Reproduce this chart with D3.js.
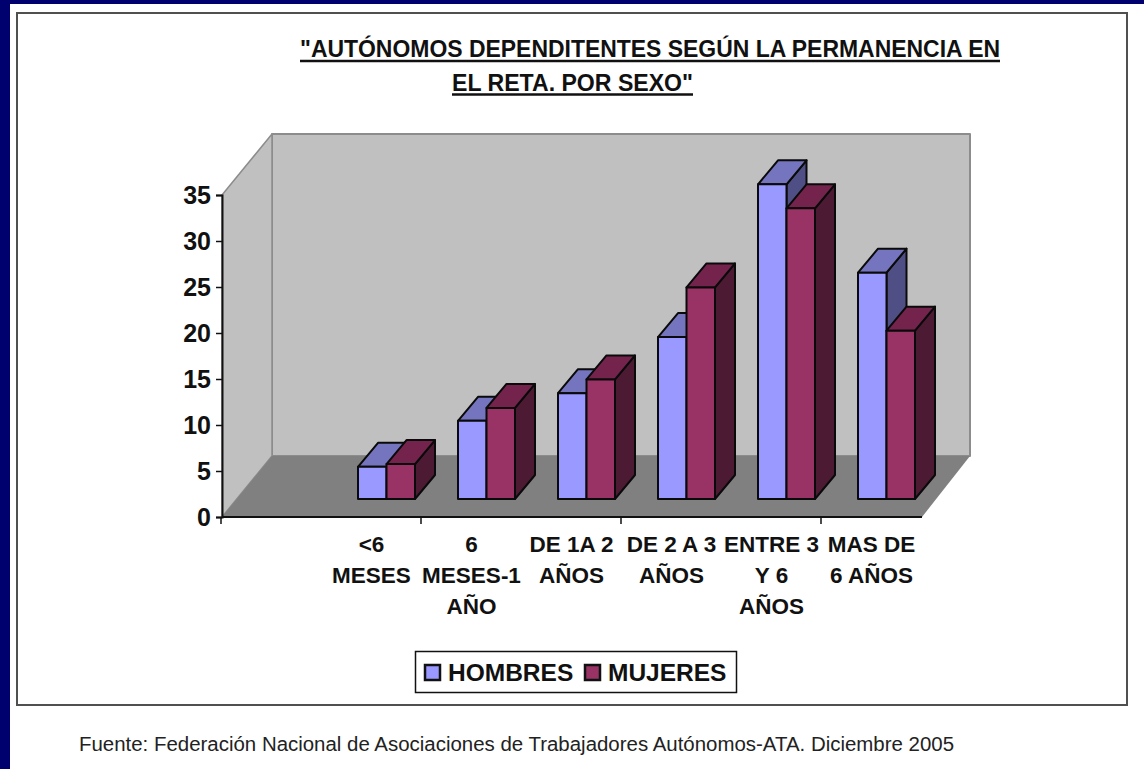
<!DOCTYPE html>
<html lang="es">
<head>
  <meta charset="UTF-8">
  <title>Autónomos dependientes</title>
  <style>
    html, body { margin: 0; padding: 0; background: #fff; }
    svg { display: block; font-family: "Liberation Sans", Arial, sans-serif; }
  </style>
</head>
<body>
  <svg id="chart" width="1144" height="769"></svg>
  <script src="https://d3js.org/d3.v7.min.js"></script>
  <script>
    const titleLines = ['"AUTÓNOMOS DEPENDITENTES SEGÚN LA PERMANENCIA EN', 'EL RETA. POR SEXO"'];
    const source = "Fuente: Federación Nacional de Asociaciones de Trabajadores Autónomos-ATA. Diciembre 2005";
    // first slot is really empty in the original chart
    const categories = ["", "<6 MESES", "6 MESES-1 AÑO", "DE 1A 2 AÑOS", "DE 2 A 3 AÑOS", "ENTRE 3 Y 6 AÑOS", "MAS DE 6 AÑOS"];
    const categoryLines = [[], ["<6", "MESES"], ["6", "MESES-1", "AÑO"], ["DE 1A 2", "AÑOS"], ["DE 2 A 3", "AÑOS"], ["ENTRE 3", "Y 6", "AÑOS"], ["MAS DE", "6 AÑOS"]];
    const hombres = [null, 3.5, 8.5, 11.5, 17.6, 34.2, 24.6];
    const mujeres = [null, 3.8, 9.9, 13, 23, 31.6, 18.3];
    const yTicks = [0, 5, 10, 15, 20, 25, 30, 35];

    const svg = d3.select("#chart");
    const navy = "#00006e";

    // page frame
    svg.append("rect").attr("width", 1144).attr("height", 4).attr("fill", navy);
    svg.append("rect").attr("width", 10).attr("height", 769).attr("fill", navy);
    svg.append("rect").attr("x", 17).attr("y", 13).attr("width", 1110).attr("height", 692)
      .attr("fill", "#fff").attr("stroke", "#505050").attr("stroke-width", 2);

    // title, underlines drawn by hand because the original ones are heavier
    [[titleLines[0], 300, 57, 700, 61], [titleLines[1], 452, 91, 241, 94.5]].forEach(d => {
      svg.append("text").attr("x", d[1]).attr("y", d[2]).text(d[0])
        .attr("font-size", 24.5).attr("font-weight", "bold").attr("fill", "#111")
        .attr("textLength", d[3]).attr("lengthAdjust", "spacingAndGlyphs");
      svg.append("line").attr("x1", d[1]).attr("x2", d[1] + d[3]).attr("y1", d[4]).attr("y2", d[4])
        .attr("stroke", "#111").attr("stroke-width", 2.5);
    });

    const x = d3.scaleBand().domain(categories).range([222, 922]);
    const y = d3.scaleLinear().domain([0, 35]).range([517, 195]);
    const wallDx = 50, wallDy = -61;
    const wallTop = 134;
    const x0 = x.range()[0], x1 = x.range()[1], y0 = y(0), yMax = y(35);

    const poly = (pts, fill, stroke, sw) => svg.append("path")
      .attr("d", "M" + pts.map(p => p.join(",")).join("L") + "Z")
      .attr("fill", fill).attr("stroke", stroke || "none").attr("stroke-width", sw || 0)
      .attr("stroke-linejoin", "round");

    // walls and floor
    poly([[x0 + wallDx, wallTop], [x1 + wallDx - 2, wallTop], [x1 + wallDx - 2, y0 + wallDy], [x0 + wallDx, y0 + wallDy]], "#c0c0c0", "#8c8c8c", 2);
    poly([[x0, yMax], [x0 + wallDx, wallTop], [x0 + wallDx, y0 + wallDy], [x0, y0]], "#c0c0c0", "#8c8c8c", 1.5);
    poly([[x0, y0], [x0 + wallDx, y0 + wallDy], [x1 + wallDx - 2, y0 + wallDy], [x1, y0]], "#808080");

    // bars: front face sits partway into the floor
    const barOffsetX = 15.5, baseLift = 18, barW = 28.5, depthX = 20, depthY = 24;
    const seriesList = [
      { values: hombres, front: "#9999ff", top: "#7575bf", side: "#4f4f85", shift: 0 },
      { values: mujeres, front: "#993366", top: "#74244c", side: "#4c1a33", shift: 1 }
    ];
    const edge = "#0a0a0a";
    categories.forEach((c, i) => {
      if (hombres[i] === null) return;
      seriesList.forEach(s => {
        const left = x(c) + x.bandwidth() / 2 - barW + barOffsetX - 1 + s.shift * barW;
        const right = left + barW;
        const bottom = y(0) - baseLift;
        const topY = bottom - (y(0) - y(s.values[i]));
        poly([[right, topY], [right + depthX, topY - depthY], [right + depthX, bottom - depthY], [right, bottom]], s.side, edge, 2);
        poly([[left, topY], [left + depthX, topY - depthY], [right + depthX, topY - depthY], [right, topY]], s.top, edge, 2);
        poly([[left, topY], [right, topY], [right, bottom], [left, bottom]], s.front, edge, 2);
      });
    });

    // axes
    const yAxis = d3.axisLeft(y).tickValues(yTicks).tickSize(6).tickPadding(5);
    const gy = svg.append("g").attr("transform", `translate(${x0},0)`).call(yAxis);
    gy.select(".domain").attr("stroke", "#111").attr("stroke-width", 2);
    gy.selectAll("line").attr("stroke", "#111").attr("stroke-width", 1.5);
    gy.selectAll("text").attr("font-family", "Liberation Sans").attr("font-size", 25).attr("font-weight", "bold").attr("fill", "#111");

    svg.append("line").attr("x1", x0).attr("x2", x1).attr("y1", y0).attr("y2", y0).attr("stroke", "#111").attr("stroke-width", 2);
    // the original only keeps every second tick mark
    svg.selectAll(".xtick").data(categories.filter((c, i) => i % 2 === 0)).join("line")
      .attr("class", "xtick")
      .attr("x1", d => x(d) - 1).attr("x2", d => x(d) - 1).attr("y1", y0).attr("y2", y0 + 7)
      .attr("stroke", "#111").attr("stroke-width", 1.5);

    categories.forEach((c, i) => {
      const t = svg.append("text").attr("text-anchor", "middle")
        .attr("font-size", 22.5).attr("font-weight", "bold").attr("fill", "#111");
      categoryLines[i].forEach((line, j) => {
        t.append("tspan").attr("x", x(c) + x.bandwidth() / 2 - 0.5).attr("y", 551.5 + j * 31).text(line);
      });
    });

    // legend
    svg.append("rect").attr("x", 415.5).attr("y", 651.5).attr("width", 321).attr("height", 41)
      .attr("fill", "#fff").attr("stroke", "#111").attr("stroke-width", 1.5);
    [["HOMBRES", "#9999ff", 425, 448], ["MUJERES", "#993366", 585, 608]].forEach(d => {
      svg.append("rect").attr("x", d[2]).attr("y", 665).attr("width", 15).attr("height", 15)
        .attr("fill", d[1]).attr("stroke", "#111").attr("stroke-width", 2.5);
      svg.append("text").attr("x", d[3]).attr("y", 681).text(d[0])
        .attr("font-size", 24.5).attr("font-weight", "bold").attr("fill", "#111");
    });

    // source line
    svg.append("text").attr("x", 79).attr("y", 751).text(source)
      .attr("font-size", 20).attr("fill", "#222")
      .attr("textLength", 875).attr("lengthAdjust", "spacingAndGlyphs");
  </script>
</body>
</html>
